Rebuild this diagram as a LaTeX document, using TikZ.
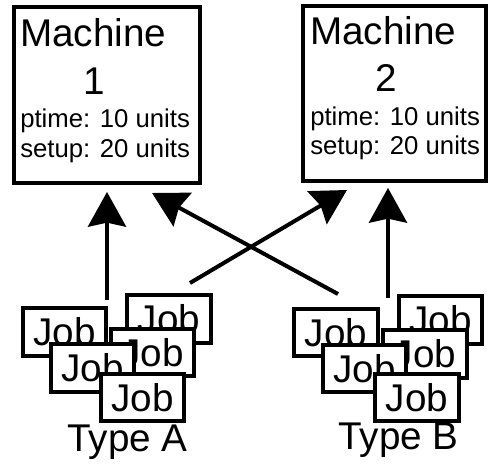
\documentclass[tikz,border=0pt]{standalone}
\usepackage{fontspec}
\setmainfont{Liberation Sans}
\usetikzlibrary{arrows.meta}
\begin{document}
\begin{tikzpicture}[x=0.75pt,y=-0.75pt,
  machbox/.style={draw=black,line width=3pt,minimum width=139pt,minimum height=132pt,inner sep=0pt},
  jobbox/.style={draw=black,fill=white,line width=3pt,minimum width=62.5pt,minimum height=35.5pt,inner sep=0pt,font=\fontsize{29}{31}\selectfont},
  bigtxt/.style={inner sep=0pt,font=\fontsize{29}{31}\selectfont},
  smalltxt/.style={inner sep=0pt,font=\fontsize{19.3}{22}\selectfont},
  arr/.style={line width=3pt,-{Stealth[length=26pt,width=28.5pt,inset=3pt]}}
]
\useasboundingbox (0,0) rectangle (489,473);
% machines
\node[machbox] (m1) at (107,95) {};
\node[machbox,minimum width=137pt,minimum height=131pt] (m2) at (394.5,93.5) {};
\node[bigtxt,anchor=base west] (m1a) at (20,47) {Machine};
\node[bigtxt,anchor=base] (m1b) at (94,95) {1};
\node[smalltxt,anchor=base west] (m1c) at (20,128) {ptime: 10 units};
\node[smalltxt,anchor=base west] (m1d) at (20,158) {setup: 20 units};
\node[bigtxt,anchor=base west] (m2a) at (310,45) {Machine};
\node[bigtxt,anchor=base] (m2b) at (386,92) {2};
\node[smalltxt,anchor=base west] (m2c) at (310,126) {ptime: 10 units};
\node[smalltxt,anchor=base west] (m2d) at (310,155) {setup: 20 units};
% type A jobs
\node[jobbox] (a1) at (64.5,332) {Job};
\node[jobbox] (a2) at (169,319) {Job};
\node[jobbox] (a3) at (152.5,352.5) {Job};
\node[jobbox] (a4) at (92.5,368) {Job};
\node[jobbox] (a5) at (142.5,397.5) {Job};
% type B jobs
\node[jobbox] (b1) at (336,332.5) {Job};
\node[jobbox] (b2) at (440.5,320) {Job};
\node[jobbox] (b3) at (425,354) {Job};
\node[jobbox] (b4) at (364.5,368.5) {Job};
\node[jobbox] (b5) at (417,397.5) {Job};
% labels
\node[bigtxt,anchor=base] (ta) at (127.5,452) {Type A};
\node[bigtxt,anchor=base] (tb) at (398.5,450) {Type B};
% connector ends
\coordinate (as1) at (107,300);
\coordinate (at1) at (107,192);
\coordinate (as2) at (190,283);
\coordinate (at2) at (347,190);
\coordinate (bs1) at (338,294);
\coordinate (bt1) at (152,193);
\coordinate (bs2) at (388,298);
\coordinate (bt2) at (388,188);
\draw[arr] (as1) -- (at1);
\draw[arr] (as2) -- (at2);
\draw[arr] (bs1) -- (bt1);
\draw[arr] (bs2) -- (bt2);
\end{tikzpicture}
\end{document}
